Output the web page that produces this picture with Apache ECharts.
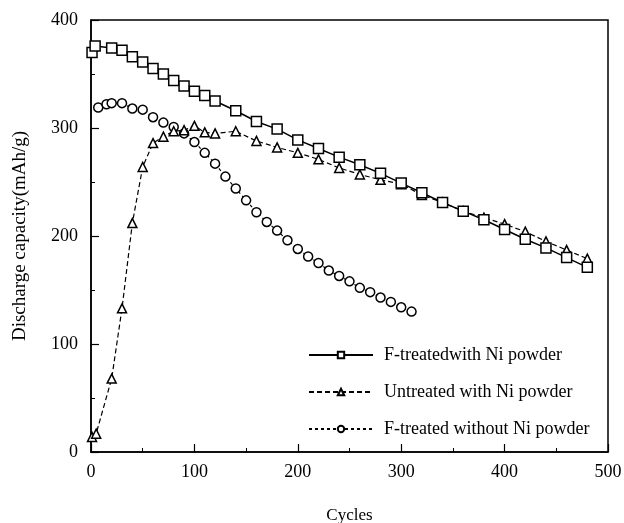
<!DOCTYPE html>
<html>
<head>
<meta charset="utf-8">
<script src="https://cdn.jsdelivr.net/npm/echarts@6/dist/echarts.min.js"></script>
<style>
  html, body { margin: 0; padding: 0; background: #fff; }
  #main { width: 624px; height: 523px; }
</style>
</head>
<body>
<div id="main"></div>
<script>
// data
var names = ['F-treatedwith Ni powder', 'Untreated with Ni powder', 'F-treated without Ni powder'];

var sqCycles = [1, 4, 20, 30, 40, 50, 60, 70, 80, 90, 100, 110, 120, 140, 160, 180, 200, 220, 240, 260, 280, 300, 320, 340, 360, 380, 400, 420, 440, 460, 480];
var sqCap    = [370, 376, 374, 372, 366, 361, 355, 350, 344, 339, 334, 330, 325, 316, 306, 299, 289, 281, 273, 266, 258, 249, 240, 231, 223, 215, 206, 197, 189, 180, 171];

var triCycles = [1, 5, 20, 30, 40, 50, 60, 70, 80, 90, 100, 110, 120, 140, 160, 180, 200, 220, 240, 260, 280, 300, 320, 340, 360, 380, 400, 420, 440, 460, 480];
var triCap    = [14, 17, 68, 133, 212, 264, 286, 292, 297, 298, 302, 296, 295, 297, 288, 282, 277, 271, 263, 257, 252, 248, 238, 231, 223, 217, 211, 204, 195, 187, 179];

var cirCycles = [7, 15, 20, 30, 40, 50, 60, 70, 80, 90, 100, 110, 120, 130, 140, 150, 160, 170, 180, 190, 200, 210, 220, 230, 240, 250, 260, 270, 280, 290, 300, 310];
var cirCap    = [319, 322, 323, 323, 318, 317, 310, 305, 301, 295, 287, 277, 267, 255, 244, 233, 222, 213, 205, 196, 188, 181, 175, 168, 163, 158, 152, 148, 143, 139, 134, 130];

function pairs(xs, ys) {
  return xs.map(function (x, i) { return [x, ys[i]]; });
}

var font = 'Liberation Serif';

var myChart = echarts.init(document.getElementById('main'));

var option = {
  backgroundColor: '#fff',
  animation: false,
  textStyle: { fontFamily: font, color: '#000' },
  grid: {
    left: 91, right: 16, top: 20, bottom: 71,
    outerBoundsMode: 'none',
    show: true, borderColor: '#000', borderWidth: 1.5
  },
  legend: {
    orient: 'vertical',
    left: 303,
    top: 341,
    itemWidth: 64,
    itemHeight: 8,
    itemGap: 19,
    data: names,
    textStyle: { fontFamily: font, fontSize: 18, color: '#000', padding: [0, 0, 0, 6] }
  },
  xAxis: {
    type: 'value',
    min: 0, max: 500, interval: 100,
    name: 'Cycles',
    nameLocation: 'middle',
    nameGap: 55,
    nameTextStyle: { fontFamily: font, fontSize: 17, color: '#000' },
    axisLine: { lineStyle: { color: '#000', width: 1.5 } },
    axisTick: { inside: true, length: 8, lineStyle: { color: '#000', width: 1.2 } },
    minorTick: { show: true, splitNumber: 2, length: 4, lineStyle: { color: '#000', width: 1 } },
    axisLabel: { fontFamily: font, fontSize: 18, color: '#000', margin: 11 },
    splitLine: { show: false }
  },
  yAxis: {
    type: 'value',
    min: 0, max: 400, interval: 100,
    name: 'Discharge capacity(mAh/g)',
    nameLocation: 'middle',
    nameGap: 61,
    nameTextStyle: { fontFamily: font, fontSize: 19, color: '#000' },
    axisLine: { show: true, lineStyle: { color: '#000', width: 1.5 } },
    axisTick: { show: true, inside: true, length: 8, lineStyle: { color: '#000', width: 1.2 } },
    minorTick: { show: true, splitNumber: 2, length: 4, lineStyle: { color: '#000', width: 1 } },
    axisLabel: { fontFamily: font, fontSize: 18, color: '#000', margin: 13 },
    splitLine: { show: false }
  },
  series: [
    {
      name: names[0],
      type: 'line',
      data: pairs(sqCycles, sqCap),
      symbol: 'rect',
      symbolSize: 10,
      lineStyle: { color: '#000', width: 1.5 },
      itemStyle: { color: '#fff', borderColor: '#000', borderWidth: 1.5 },
      z: 4
    },
    {
      name: names[1],
      type: 'line',
      data: pairs(triCycles, triCap),
      symbol: 'triangle',
      symbolSize: 9,
      lineStyle: { color: '#000', width: 1.2, type: [5, 3] },
      itemStyle: { color: '#fff', borderColor: '#000', borderWidth: 1.5 },
      z: 3
    },
    {
      name: names[2],
      type: 'line',
      data: pairs(cirCycles, cirCap),
      symbol: 'circle',
      symbolSize: 9,
      lineStyle: { color: '#000', width: 1.2, type: [3, 3] },
      itemStyle: { color: '#fff', borderColor: '#000', borderWidth: 1.5 },
      z: 2
    }
  ]
};

myChart.setOption(option);
</script>
</body>
</html>
